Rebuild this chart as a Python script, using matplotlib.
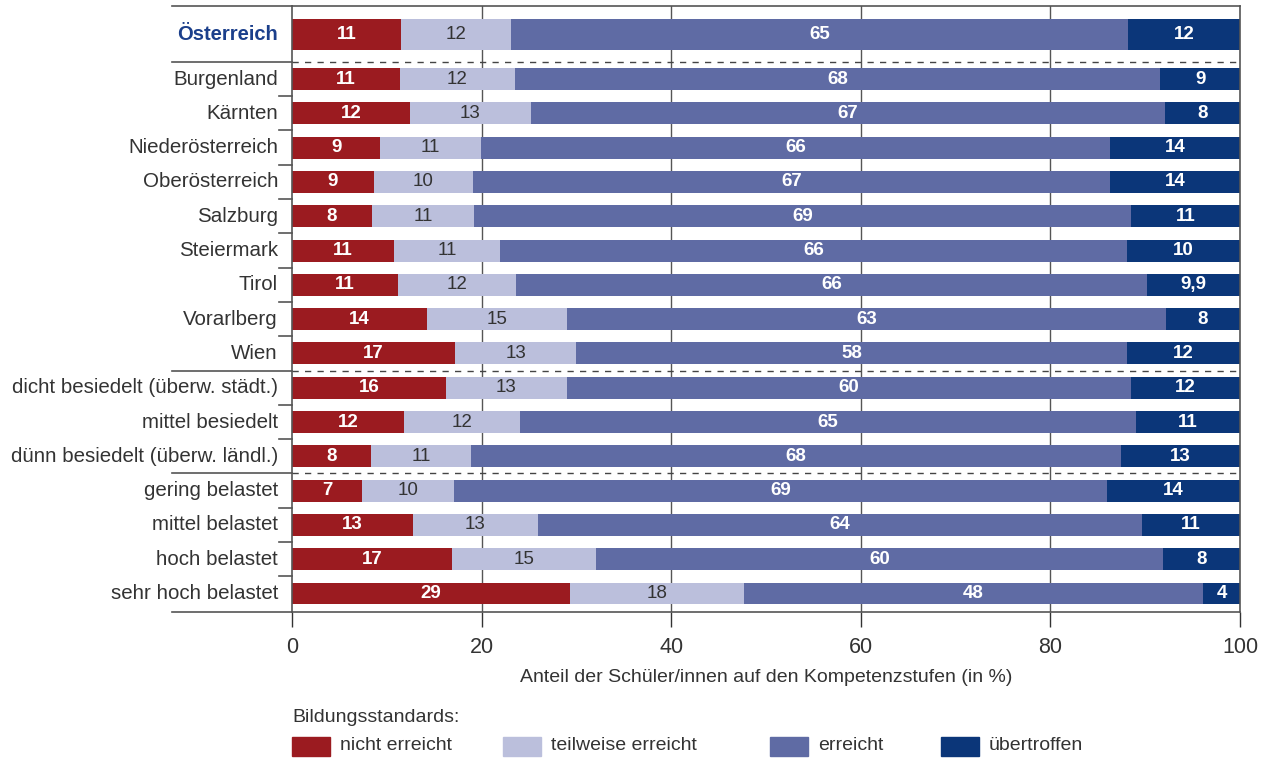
import numpy as np
from matplotlib import pyplot as plt
from matplotlib.patches import Rectangle

plt.rcParams['font.family'] = ['Liberation Sans', 'DejaVu Sans']

regions = ["Österreich", "Burgenland", "Kärnten", "Niederösterreich", "Oberösterreich",
           "Salzburg", "Steiermark", "Tirol", "Vorarlberg", "Wien",
           "dicht besiedelt (überw. städt.)", "mittel besiedelt", "dünn besiedelt (überw. ländl.)",
           "gering belastet", "mittel belastet", "hoch belastet", "sehr hoch belastet"]

# bar widths (in %)
nicht = [11.5, 11.4, 12.4, 9.3, 8.6, 8.4, 10.8, 11.2, 14.2, 17.2, 16.2, 11.8, 8.3, 7.4, 12.8, 16.9, 29.3]
teilweise = [11.6, 12.1, 12.8, 10.6, 10.5, 10.8, 11.1, 12.4, 14.8, 12.8, 12.8, 12.3, 10.6, 9.7, 13.1, 15.2, 18.4]
erreicht = [65.1, 68.1, 66.9, 66.4, 67.2, 69.3, 66.2, 66.6, 63.2, 58.1, 59.5, 64.9, 68.5, 68.9, 63.8, 59.8, 48.4]
uebertroffen = [11.8, 8.4, 7.9, 13.7, 13.7, 11.5, 11.9, 9.8, 7.8, 11.9, 11.5, 11.0, 12.6, 14.0, 10.3, 8.1, 3.9]

# printed labels
lab_nicht = ["11", "11", "12", "9", "9", "8", "11", "11", "14", "17", "16", "12", "8", "7", "13", "17", "29"]
lab_teil = ["12", "12", "13", "11", "10", "11", "11", "12", "15", "13", "13", "12", "11", "10", "13", "15", "18"]
lab_err = ["65", "68", "67", "66", "67", "69", "66", "66", "63", "58", "60", "65", "68", "69", "64", "60", "48"]
lab_ueb = ["12", "9", "8", "14", "14", "11", "10", "9,9", "8", "12", "12", "11", "13", "14", "11", "8", "4"]

series = [nicht, teilweise, erreicht, uebertroffen]
labels = [lab_nicht, lab_teil, lab_err, lab_ueb]
names = ["nicht erreicht", "teilweise erreicht", "erreicht", "übertroffen"]
colors = ["#9B1B20", "#BBBFDC", "#5F6BA4", "#0B3679"]
txtcol = ["white", "#333333", "white", "white"]
txtw = ["bold", "normal", "bold", "bold"]

ypos = np.array([-1.3] + list(range(16)))
heights = np.array([0.9] + [0.64] * 16)

W, H = 1271, 758
fig = plt.figure(figsize=(W / 100, H / 100), dpi=100)
ax = fig.add_axes([292 / W, 1 - 612 / H, 948 / W, 606 / H])

left = np.zeros(len(regions))
for k in range(4):
    vals = np.array(series[k])
    ax.barh(ypos, vals, left=left, height=heights, color=colors[k], zorder=2)
    for i in range(len(regions)):
        ax.text(left[i] + vals[i] / 2, ypos[i], labels[k][i], ha="center", va="center",
                fontsize=13.5, color=txtcol[k], fontweight=txtw[k], zorder=3)
    left += vals

ax.set_xlim(0, 100)
ax.set_ylim(15.54, -2.13)

# grid
for x in [20, 40, 60, 80]:
    ax.axvline(x, color="#555555", lw=1, zorder=0)

for s in ax.spines.values():
    s.set_color("#555555")
    s.set_linewidth(1.2)

ax.set_yticks([])
ax.set_xticks([0, 20, 40, 60, 80, 100])
ax.tick_params(axis="x", direction="out", length=11, width=1, color="#333333",
               labelsize=15.5, labelcolor="#333333", pad=7)

tr = ax.get_yaxis_transform()
xl = (172 - 292) / 948
# top and bottom lines run out to the left
ax.plot([xl, 0], [-2.13, -2.13], transform=tr, color="#555555", lw=1.2, clip_on=False)
ax.plot([xl, 0], [15.54, 15.54], transform=tr, color="#555555", lw=1.2, clip_on=False)

# group separators
for y in [-0.5, 8.5, 11.5]:
    ax.plot([xl, 0], [y, y], transform=tr, color="#555555", lw=1.2, clip_on=False)
    ax.plot([0, 1], [y, y], transform=tr, color="#444444", lw=1, ls=(0, (4.5, 4.5)), clip_on=False, zorder=1)
for y in np.arange(0.5, 15, 1):
    if y in [8.5, 11.5]:
        continue
    ax.plot([-13 / 948, 0], [y, y], transform=tr, color="#555555", lw=1.2, clip_on=False)

# category labels
for i, r in enumerate(regions):
    if i == 0:
        ax.text(-14 / 948, ypos[i], r, transform=tr, ha="right", va="center",
                fontsize=14.5, fontweight="bold", color="#1B3F8B")
    else:
        ax.text(-14 / 948, ypos[i], r, transform=tr, ha="right", va="center",
                fontsize=14.8, color="#333333")

fig.text(766 / W, 1 - 677 / H, "Anteil der Schüler/innen auf den Kompetenzstufen (in %)",
         ha="center", va="center", fontsize=14, color="#333333")

# legend
fig.text(292 / W, 1 - 717 / H, "Bildungsstandards:", ha="left", va="center", fontsize=14, color="#333333")
lx = [292, 503, 770, 941]
for k in range(4):
    fig.patches.append(Rectangle((lx[k] / W, 1 - 756 / H), 38 / W, 19 / H,
                                 transform=fig.transFigure, color=colors[k]))
    fig.text((lx[k] + 48) / W, 1 - 746 / H, names[k], ha="left", va="center",
             fontsize=14, color="#333333")

plt.savefig("out.png", dpi=100)
